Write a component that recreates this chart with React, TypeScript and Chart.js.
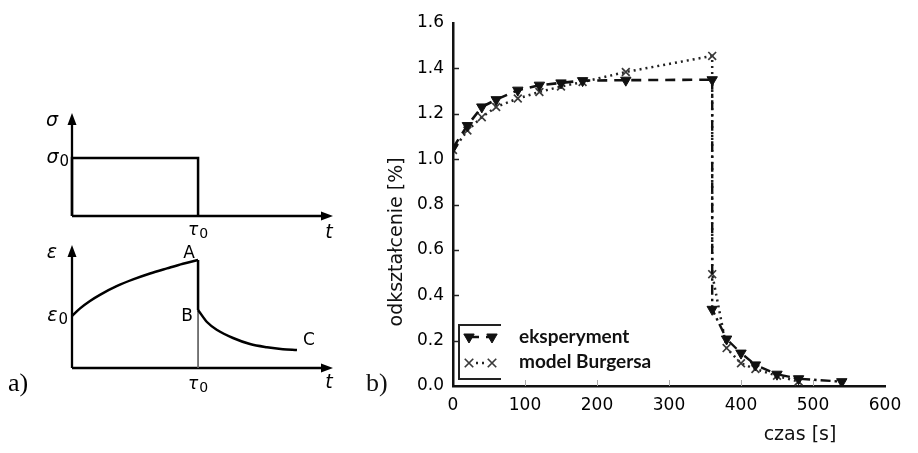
import React, { useEffect, useRef } from "react";
import { Chart, registerables } from "chart.js";
Chart.register(...registerables);

// ---------- Panel b data ----------
const X_TICKS = [0, 100, 200, 300, 400, 500, 600];
const Y_TICKS = [0, 0.2, 0.4, 0.6, 0.8, 1.0, 1.2, 1.4, 1.6];
const EXP_LOAD_T = [0, 20, 40, 60, 90, 120, 150, 180, 240, 360];
const EXP_LOAD_V = [1.05, 1.148, 1.23, 1.262, 1.304, 1.326, 1.336, 1.346, 1.348, 1.35];
const EXP_UNLOAD_T = [360, 360, 380, 400, 420, 450, 480, 540];
const EXP_UNLOAD_V = [1.35, 0.338, 0.207, 0.145, 0.093, 0.052, 0.032, 0.019];
const MODEL_T = [0, 20, 40, 60, 90, 120, 150, 180, 240, 360, 360, 380, 400, 420, 450, 480];
const MODEL_V = [1.04, 1.126, 1.185, 1.23, 1.267, 1.296, 1.32, 1.34, 1.384, 1.455, 0.493, 0.167, 0.1, 0.075, 0.045, 0.02];
const LEGEND_LABELS = ["eksperyment", "model Burgersa"];
const X_TITLE = "czas [s]";
const Y_TITLE = "odkształcenie [%]";

// ---------- Panel a (schematic) data ----------
const TAU0 = 48.3;
const SIGMA0 = 56.3;
const STRESS_T = [0, 0, TAU0, TAU0];
const STRESS_V = [0, SIGMA0, SIGMA0, 0];
const CREEP_T = [0, 3.1, 6.9, 10.7, 17.1, 23.4, 29.9, 36.4, 42.5, TAU0];
const CREEP_V = [42.3, 48.5, 54.5, 59.5, 66.5, 72, 76.8, 81, 84.8, 87.8];
const RECOVERY_T = [TAU0, 51.7, 55.6, 61.7, 68.2, 74.7, 80.8, 86.2];
const RECOVERY_V = [47.2, 37.4, 30.9, 24.4, 19.5, 16.9, 15.3, 14.6];

const pts = (xs: number[], ys: number[]) => xs.map((x, i) => ({ x, y: ys[i] }));

const SANS = '"DejaVu Sans"';

function drawSub(ctx: CanvasRenderingContext2D, main: string, sub: string, x: number, y: number, align: "center" | "right", size: number) {
  const mainFont = `italic ${size}px ${SANS}`;
  const subFont = `${Math.round(size * 0.8)}px ${SANS}`;
  ctx.font = mainFont;
  const w1 = ctx.measureText(main).width;
  ctx.font = subFont;
  const w2 = ctx.measureText(sub).width;
  const total = w1 + w2 + 1;
  const sx = align === "center" ? x - total / 2 : x - total;
  ctx.textAlign = "left";
  ctx.textBaseline = "middle";
  ctx.font = mainFont;
  ctx.fillText(main, sx, y);
  ctx.font = subFont;
  ctx.fillText(sub, sx + w1 + 1, y + size * 0.22);
}

function drawText(ctx: CanvasRenderingContext2D, t: string, x: number, y: number, font: string, align: CanvasTextAlign = "center") {
  ctx.font = font;
  ctx.textAlign = align;
  ctx.textBaseline = "middle";
  ctx.fillText(t, x, y);
}

const arrowAxes = {
  id: "arrowAxes",
  beforeDatasetsDraw(chart: any) {
    const { ctx, chartArea } = chart;
    const { left, right, top, bottom } = chartArea;
    ctx.save();
    ctx.strokeStyle = "#000";
    ctx.fillStyle = "#000";
    ctx.lineWidth = 2.3;
    ctx.beginPath();
    ctx.moveTo(left, bottom);
    ctx.lineTo(right - 8, bottom);
    ctx.moveTo(left, bottom);
    ctx.lineTo(left, top + 8);
    ctx.stroke();
    ctx.beginPath();
    ctx.moveTo(right, bottom);
    ctx.lineTo(right - 12, bottom - 4.5);
    ctx.lineTo(right - 12, bottom + 4.5);
    ctx.closePath();
    ctx.fill();
    ctx.beginPath();
    ctx.moveTo(left, top);
    ctx.lineTo(left - 4.5, top + 12);
    ctx.lineTo(left + 4.5, top + 12);
    ctx.closePath();
    ctx.fill();
    ctx.restore();
  },
};

const stressLabels = {
  id: "stressLabels",
  afterDraw(chart: any) {
    const { ctx, chartArea, scales } = chart;
    const { left, right, top, bottom } = chartArea;
    ctx.save();
    ctx.fillStyle = "#000";
    drawText(ctx, "σ", left - 20, top + 8, `italic 19px ${SANS}`);
    drawSub(ctx, "σ", "0", left - 3, scales.y.getPixelForValue(SIGMA0), "right", 19);
    drawSub(ctx, "τ", "0", scales.x.getPixelForValue(TAU0), bottom + 15, "center", 17);
    drawText(ctx, "t", right - 4, bottom + 17, `italic 19px ${SANS}`);
    ctx.restore();
  },
};

const strainLabels = {
  id: "strainLabels",
  afterDraw(chart: any) {
    const { ctx, chartArea, scales } = chart;
    const { left, right, top, bottom } = chartArea;
    const xt = scales.x.getPixelForValue(TAU0);
    ctx.save();
    ctx.fillStyle = "#000";
    drawText(ctx, "ε", left - 20, top + 8, `italic 19px ${SANS}`);
    drawSub(ctx, "ε", "0", left - 4, scales.y.getPixelForValue(CREEP_V[0]), "right", 19);
    drawText(ctx, "A", xt - 9, top + 9, `17px ${SANS}`);
    drawText(ctx, "B", xt - 11, scales.y.getPixelForValue(RECOVERY_V[0]) + 7, `17px ${SANS}`);
    drawText(ctx, "C", scales.x.getPixelForValue(RECOVERY_T[RECOVERY_T.length - 1]) + 12, scales.y.getPixelForValue(RECOVERY_V[RECOVERY_V.length - 1]) - 9, `17px ${SANS}`);
    drawSub(ctx, "τ", "0", xt, bottom + 17, "center", 17);
    drawText(ctx, "t", right - 4, bottom + 15, `italic 19px ${SANS}`);
    drawText(ctx, "a)", 8, bottom + 16, `26px "Liberation Serif"`, "left");
    ctx.restore();
  },
};

function triangleDown(ctx: CanvasRenderingContext2D, cx: number, cy: number, r: number) {
  const s = Math.sin(Math.PI / 3) * r;
  ctx.beginPath();
  ctx.moveTo(cx, cy + r);
  ctx.lineTo(cx - s, cy - r / 2);
  ctx.lineTo(cx + s, cy - r / 2);
  ctx.closePath();
  ctx.fill();
  ctx.stroke();
}

function crossRot(ctx: CanvasRenderingContext2D, cx: number, cy: number, r: number) {
  const d = r * Math.SQRT1_2;
  ctx.beginPath();
  ctx.moveTo(cx - d, cy - d);
  ctx.lineTo(cx + d, cy + d);
  ctx.moveTo(cx + d, cy - d);
  ctx.lineTo(cx - d, cy + d);
  ctx.stroke();
}

const mainDecor = {
  id: "mainDecor",
  afterDraw(chart: any) {
    const { ctx, chartArea, scales } = chart;
    const { left, bottom } = chartArea;
    const { x, y } = scales;
    ctx.save();
    // inner y ticks
    ctx.strokeStyle = "#222";
    ctx.lineWidth = 1.5;
    Y_TICKS.forEach((v) => {
      if (v <= 0 || v >= 1.6) return;
      const py = Math.round(y.getPixelForValue(v)) + 0.5;
      ctx.beginPath();
      ctx.moveTo(left, py);
      ctx.lineTo(left + 6, py);
      ctx.stroke();
    });
    // faint inner x ticks
    ctx.strokeStyle = "#aaa";
    ctx.lineWidth = 1;
    X_TICKS.forEach((v) => {
      if (v <= 0 || v >= 600) return;
      const px = Math.round(x.getPixelForValue(v)) + 0.5;
      ctx.beginPath();
      ctx.moveTo(px, bottom);
      ctx.lineTo(px, bottom - 6);
      ctx.stroke();
    });
    // titles
    ctx.fillStyle = "#111";
    drawText(ctx, X_TITLE, x.getPixelForValue(482), bottom + 49, `19px ${SANS}`);
    ctx.save();
    ctx.translate(left - 56, y.getPixelForValue(0.635));
    ctx.rotate(-Math.PI / 2);
    drawText(ctx, Y_TITLE, 0, 0, `19px ${SANS}`);
    ctx.restore();
    // legend frame
    const fl = left + 6;
    const ft = bottom - 61;
    const fb = bottom - 7;
    const fr = left + 48;
    ctx.strokeStyle = "#222";
    ctx.lineWidth = 2;
    ctx.beginPath();
    ctx.moveTo(fr, ft);
    ctx.lineTo(fl, ft);
    ctx.lineTo(fl, fb);
    ctx.lineTo(fr, fb);
    ctx.stroke();
    // legend rows
    const ds = chart.data.datasets;
    const rows = [bottom - 49, bottom - 23];
    const m1 = left + 16;
    const m2 = left + 39;
    ctx.strokeStyle = ds[0].borderColor;
    ctx.lineWidth = ds[0].borderWidth;
    ctx.setLineDash(ds[0].borderDash);
    ctx.beginPath();
    ctx.moveTo(m1, rows[0]);
    ctx.lineTo(m2, rows[0]);
    ctx.stroke();
    ctx.setLineDash([]);
    ctx.fillStyle = ds[0].pointBackgroundColor;
    ctx.strokeStyle = ds[0].pointBorderColor;
    ctx.lineWidth = 1;
    triangleDown(ctx, m1, rows[0], 6);
    triangleDown(ctx, m2, rows[0], 6);
    ctx.strokeStyle = ds[2].borderColor;
    ctx.lineWidth = ds[2].borderWidth;
    ctx.setLineDash(ds[2].borderDash);
    ctx.beginPath();
    ctx.moveTo(m1 + 7, rows[1]);
    ctx.lineTo(m2 - 7, rows[1]);
    ctx.stroke();
    ctx.setLineDash([]);
    ctx.strokeStyle = ds[2].pointBorderColor;
    ctx.lineWidth = ds[2].pointBorderWidth;
    crossRot(ctx, m1, rows[1], 6);
    crossRot(ctx, m2, rows[1], 6);
    ctx.fillStyle = "#111";
    drawText(ctx, LEGEND_LABELS[0], left + 66, rows[0], `bold 19px Lato`, "left");
    drawText(ctx, LEGEND_LABELS[1], left + 66, rows[1] - 1, `bold 19px Lato`, "left");
    drawText(ctx, "b)", left - 87, bottom - 2, `26px "Liberation Serif"`, "left");
    ctx.restore();
  },
};

function mainConfig(): any {
  const tickFont = { family: "DejaVu Sans", size: 17 };
  return {
    type: "line",
    data: {
      datasets: [
        {
          label: "eksperyment",
          data: pts(EXP_LOAD_T, EXP_LOAD_V),
          borderColor: "#111",
          backgroundColor: "#111",
          borderWidth: 2.6,
          borderDash: [10, 7],
          pointStyle: "triangle",
          pointRotation: 180,
          pointRadius: 6,
          pointBorderWidth: 1,
          pointBackgroundColor: "#111",
          pointBorderColor: "#111",
          tension: 0,
        },
        {
          label: "eksperyment (odciążenie)",
          data: pts(EXP_UNLOAD_T, EXP_UNLOAD_V),
          borderColor: "#111",
          backgroundColor: "#111",
          borderWidth: 2.4,
          borderDash: [10, 4, 2.5, 4],
          pointStyle: "triangle",
          pointRotation: 180,
          pointRadius: EXP_UNLOAD_T.map((_, i) => (i === 0 ? 0 : 6)),
          pointBorderWidth: 1,
          pointBackgroundColor: "#111",
          pointBorderColor: "#111",
          tension: 0,
        },
        {
          label: "model Burgersa",
          data: pts(MODEL_T, MODEL_V),
          borderColor: "#222",
          backgroundColor: "#222",
          borderWidth: 2.5,
          borderDash: [2, 4],
          pointStyle: "crossRot",
          pointRadius: 5.5,
          pointBorderWidth: 1.7,
          pointBorderColor: "#3a3a3a",
          tension: 0,
        },
      ],
    },
    options: {
      responsive: false,
      animation: false,
      layout: { padding: { left: 0, top: 23, right: 33, bottom: 0 } },
      plugins: { legend: { display: false }, tooltip: { enabled: false } },
      scales: {
        x: {
          type: "linear",
          min: 0,
          max: 600,
          afterBuildTicks: (s: any) => {
            s.ticks = X_TICKS.map((v) => ({ value: v }));
          },
          afterFit: (s: any) => {
            s.height = 67;
          },
          grid: { display: true, drawOnChartArea: false, drawTicks: false },
          border: { display: true, color: "#111", width: 2.5 },
          ticks: { padding: 9, font: tickFont, color: "#000", autoSkip: false, maxRotation: 0, callback: (v: any) => String(v) },
        },
        y: {
          type: "linear",
          min: 0,
          max: 1.6,
          afterBuildTicks: (s: any) => {
            s.ticks = Y_TICKS.map((v) => ({ value: v }));
          },
          afterFit: (s: any) => {
            s.width = 113;
          },
          grid: { display: true, drawOnChartArea: false, drawTicks: false },
          border: { display: true, color: "#111", width: 2.5 },
          ticks: { padding: 9, font: tickFont, color: "#000", autoSkip: false, callback: (v: any) => Number(v).toFixed(1) },
        },
      },
    },
    plugins: [mainDecor],
  };
}

function schematicOptions(padding: any): any {
  return {
    responsive: false,
    animation: false,
    layout: { padding },
    plugins: { legend: { display: false }, tooltip: { enabled: false } },
    scales: {
      x: { type: "linear", min: 0, max: 100, display: false },
      y: { type: "linear", min: 0, max: 100, display: false },
    },
  };
}

function stressConfig(): any {
  return {
    type: "line",
    data: {
      datasets: [
        { data: pts(STRESS_T, STRESS_V), borderColor: "#000", borderWidth: 2.5, borderJoinStyle: "miter", pointRadius: 0, tension: 0, clip: false },
      ],
    },
    options: schematicOptions({ left: 72, right: 17, top: 13, bottom: 24 }),
    plugins: [arrowAxes, stressLabels],
  };
}

function strainConfig(): any {
  return {
    type: "line",
    data: {
      datasets: [
        { data: pts(CREEP_T, CREEP_V), borderColor: "#000", borderWidth: 2.5, pointRadius: 0, cubicInterpolationMode: "monotone", clip: false },
        { data: pts([TAU0, TAU0], [CREEP_V[CREEP_V.length - 1], RECOVERY_V[0]]), borderColor: "#000", borderWidth: 2.5, pointRadius: 0, tension: 0, clip: false },
        { data: pts(RECOVERY_T, RECOVERY_V), borderColor: "#000", borderWidth: 2.5, pointRadius: 0, cubicInterpolationMode: "monotone", clip: false },
        { data: pts([TAU0, TAU0], [RECOVERY_V[0], 0]), borderColor: "#666", borderWidth: 1, pointRadius: 0, tension: 0, clip: false },
      ],
    },
    options: schematicOptions({ left: 72, right: 17, top: 15, bottom: 32 }),
    plugins: [arrowAxes, strainLabels],
  };
}

export default function App() {
  const mainRef = useRef<HTMLCanvasElement>(null);
  const stressRef = useRef<HTMLCanvasElement>(null);
  const strainRef = useRef<HTMLCanvasElement>(null);

  useEffect(() => {
    const charts = [
      new Chart(stressRef.current!, stressConfig()),
      new Chart(strainRef.current!, strainConfig()),
      new Chart(mainRef.current!, mainConfig()),
    ];
    return () => charts.forEach((c) => c.destroy());
  }, []);

  return (
    <div style={{ position: "absolute", left: 0, top: 0, width: 918, height: 453, background: "#fff", overflow: "hidden" }}>
      <canvas ref={stressRef} width={350} height={140} style={{ position: "absolute", left: 0, top: 100 }} />
      <canvas ref={strainRef} width={350} height={170} style={{ position: "absolute", left: 0, top: 230 }} />
      <canvas ref={mainRef} width={578} height={453} style={{ position: "absolute", left: 340, top: 0 }} />
    </div>
  );
}
